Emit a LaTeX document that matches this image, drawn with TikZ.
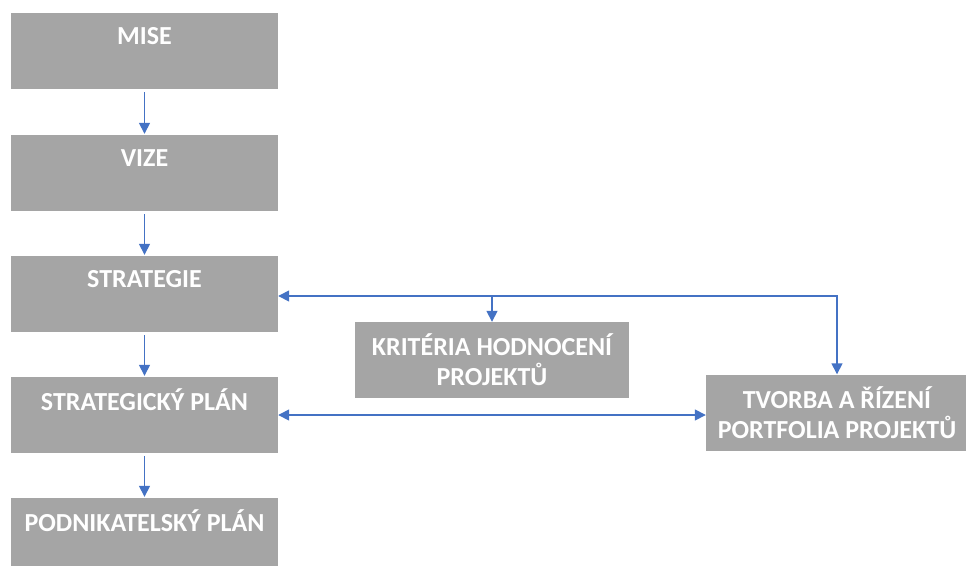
\documentclass[tikz,border=0pt]{standalone}
\usepackage{fontspec}
\setmainfont{Carlito}
\usetikzlibrary{arrows.meta}
\definecolor{boxgray}{HTML}{A5A5A5}
\definecolor{linkblue}{HTML}{4472C4}
\begin{document}
\begin{tikzpicture}[x=1pt, y=-1pt,
    box/.style={fill=boxgray, text=white, minimum width=267pt, minimum height=76pt, inner sep=0pt,
      align=center, font=\bfseries\fontsize{26}{30}\selectfont},
    link/.style={draw=linkblue, line width=1.5pt, >={Triangle[length=11pt,width=11pt]}}]
				\useasboundingbox (0,0) rectangle (966,565);
				% levý sloupec
				\node[box] (mise) at (144.5,51) {MISE\\ \mbox{}};
				\node[box] (vize) at (144.5,173) {VIZE\\ \mbox{}};
				\node[box] (strategie) at (144.5,294) {STRATEGIE\\ \mbox{}};
				\node[box] (splan) at (144.5,415) {STRATEGICKÝ PLÁN\\ \mbox{}};
				\node[box] (pplan) at (144.5,536) {PODNIKATELSKÝ PLÁN\\ \mbox{}};
				
				% pravé bloky
				\node[box, minimum width=274pt] (krit) at (492,360) {KRITÉRIA HODNOCENÍ\\ PROJEKTŮ};
				\node[box, minimum width=262pt] (tvorba) at (837,412.5) {TVORBA A ŘÍZENÍ\\ PORTFOLIA PROJEKTŮ};
				
				% šipky dolů
				\draw[link, ->, shorten <=3pt, shorten >=1pt] (mise) -- (vize);
				\draw[link, ->, shorten <=3pt, shorten >=1pt] (vize) -- (strategie);
				\draw[link, ->, shorten <=3pt, shorten >=1pt] (strategie) -- (splan);
				\draw[link, ->, shorten <=3pt, shorten >=1pt] (splan) -- (pplan);
				
				% vazby strategie -- portfolio
				\coordinate (uzel) at ([yshift=-2pt]strategie.east);
				\draw[link, <->] (uzel) -| (tvorba.north);
				\draw[link, ->] (krit.north |- uzel) -- (krit.north);
				\draw[link, <->] (splan.east) -- (tvorba.west |- splan.east);
			\end{tikzpicture}
\end{document}
